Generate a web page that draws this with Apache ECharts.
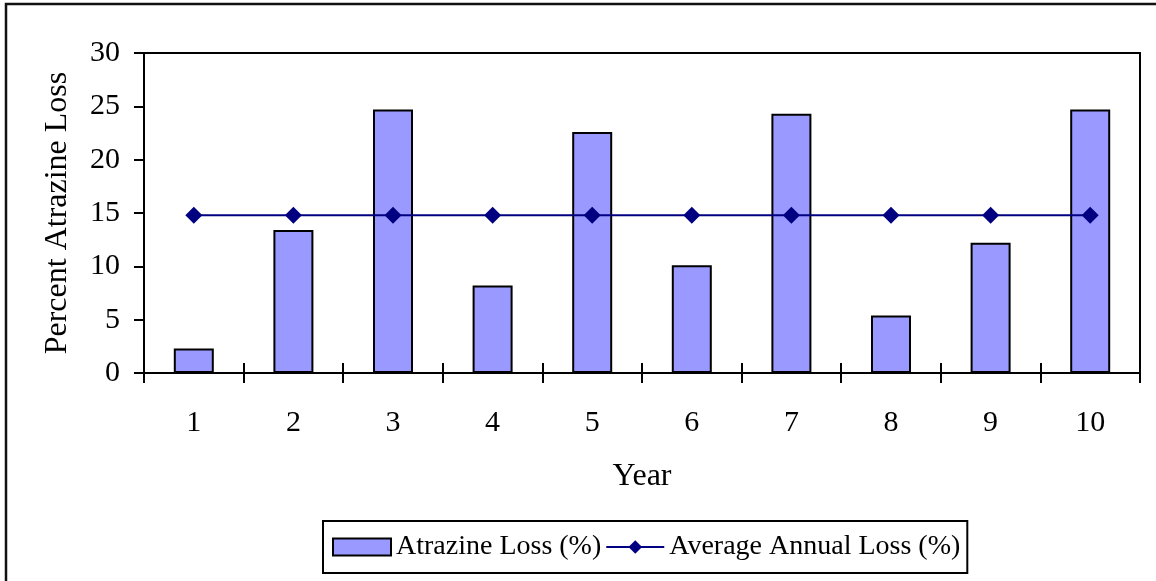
<!DOCTYPE html>
<html>
<head>
<meta charset="utf-8">
<script src="https://cdn.jsdelivr.net/npm/echarts@6/dist/echarts.min.js"></script>
<style>
html,body{margin:0;padding:0;background:#fff;}
#chart{width:1156px;height:581px;}
</style>
</head>
<body>
<div id="chart"></div>
<script>
const years = ['1','2','3','4','5','6','7','8','9','10'];
const atrazineLoss = [2.3, 13.4, 24.7, 8.2, 22.6, 10.1, 24.3, 5.4, 12.2, 24.7];
const averageLoss = [14.8, 14.8, 14.8, 14.8, 14.8, 14.8, 14.8, 14.8, 14.8, 14.8];
const yTicks = {min: 0, max: 30, interval: 5};

const FONT = 'Liberation Serif';
const chart = echarts.init(document.getElementById('chart'));
chart.setOption({
  animation: false,
  backgroundColor: '#fff',
  textStyle: {fontFamily: FONT, color: '#000'},
  graphic: [{
    type: 'rect', silent: true, z: -1,
    shape: {x: 6, y: 4, width: 1400, height: 800},
    style: {fill: 'none', stroke: '#111', lineWidth: 2.5}
  }],
  grid: {left: 144, right: 16, top: 53, bottom: 208, show: true, borderColor: '#000', borderWidth: 2, backgroundColor: 'transparent'},
  legend: {
    left: 323, top: 521,
    padding: [12, 7, 12, 9],
    borderColor: '#000', borderWidth: 2,
    itemWidth: 58, itemHeight: 17, itemGap: 4,
    textStyle: {fontFamily: FONT, fontSize: 28, color: '#000'},
    data: [
      {name: 'Atrazine Loss (%)', icon: 'rect', itemStyle: {color: '#9999FF', borderColor: '#000', borderWidth: 2}},
      {name: 'Average Annual Loss (%)'}
    ]
  },
  xAxis: [{
    type: 'category', data: years, position: 'bottom',
    name: 'Year', nameLocation: 'middle', nameGap: 88,
    nameTextStyle: {fontFamily: FONT, fontSize: 32, color: '#000'},
    axisLine: {lineStyle: {color: '#000', width: 2}},
    axisTick: {show: true, inside: false, length: 10, lineStyle: {color: '#000', width: 2}},
    axisLabel: {fontFamily: FONT, fontSize: 30, color: '#000', margin: 35},
    splitLine: {show: false}
  }, {
    type: 'category', data: years, position: 'bottom', gridIndex: 0,
    axisLine: {show: false},
    axisTick: {show: true, inside: true, length: 10, lineStyle: {color: '#000', width: 2}},
    axisLabel: {show: false},
    splitLine: {show: false}
  }],
  yAxis: {
    type: 'value', min: yTicks.min, max: yTicks.max, interval: yTicks.interval,
    name: 'Percent Atrazine Loss', nameLocation: 'middle', nameGap: 70, nameRotate: 90,
    nameTextStyle: {fontFamily: FONT, fontSize: 32, color: '#000'},
    axisLine: {show: true, lineStyle: {color: '#000', width: 2}},
    axisTick: {show: true, inside: false, length: 10, lineStyle: {color: '#000', width: 2}},
    axisLabel: {fontFamily: FONT, fontSize: 30, color: '#000', margin: 24},
    splitLine: {show: false}
  },
  series: [{
    name: 'Atrazine Loss (%)', type: 'bar', data: atrazineLoss, barWidth: 40,
    itemStyle: {color: '#9999FF', borderColor: '#000', borderWidth: 2}
  }, {
    name: 'Average Annual Loss (%)', type: 'line', data: averageLoss,
    symbol: 'diamond', symbolSize: 17, z: 3,
    lineStyle: {color: '#000080', width: 2},
    itemStyle: {color: '#000080'}
  }]
});
</script>
</body>
</html>
